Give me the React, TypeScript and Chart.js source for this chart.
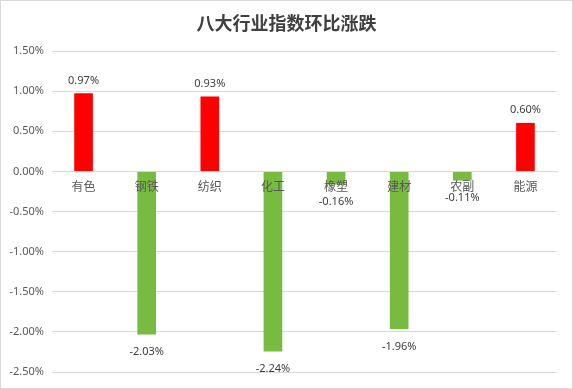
import React, { useEffect, useRef } from "react";
import { Chart, registerables } from "chart.js";

Chart.register(...registerables);

const categories = ["有色", "钢铁", "纺织", "化工", "橡塑", "建材", "农副", "能源"];
const values = [0.97, -2.03, 0.93, -2.24, -0.16, -1.96, -0.11, 0.6];
const yTicks = [1.5, 1.0, 0.5, 0.0, -0.5, -1.0, -1.5, -2.0, -2.5];
const title = "八大行业指数环比涨跌";

const POS = "#FF0000";
const NEG = "#77BB41";

const labelPlugin = {
  id: "valueLabels",
  afterDraw(chart: any) {
    const ctx = chart.ctx;
    const meta = chart.getDatasetMeta(0);
    ctx.save();
    ctx.font = "11px 'Noto Sans', 'DejaVu Sans', sans-serif";
    ctx.fillStyle = "#404040";
    ctx.textAlign = "center";
    ctx.textBaseline = "middle";
    meta.data.forEach((bar: any, i: number) => {
      const v = values[i];
      const y = v >= 0 ? bar.y - 13 : bar.y + 18;
      ctx.fillText(v.toFixed(2) + "%", bar.x, y);
    });
    ctx.font = "bold 18px 'Noto Sans CJK SC', sans-serif";
    ctx.fillStyle = "#404040";
    ctx.fillText(title, chart.width / 2, 22);
    ctx.restore();
  },
};

export default function App() {
  const ref = useRef<HTMLCanvasElement>(null);
  useEffect(() => {
    document.body.style.margin = "0";
    const chart = new Chart(ref.current!, {
      type: "bar",
      data: {
        labels: categories,
        datasets: [
          {
            data: values,
            backgroundColor: values.map((v) => (v >= 0 ? POS : NEG)),
            barThickness: 18,
          },
        ],
      },
      options: {
        animation: false,
        responsive: false,
        maintainAspectRatio: false,
        layout: { padding: { left: 0, right: 15, top: 50, bottom: 16 } },
        plugins: {
          legend: { display: false },
          tooltip: { enabled: false },
          title: { display: false },
        },
        scales: {
          x: {
            position: { y: 0 } as any,
            grid: { display: false, drawTicks: false },
            border: { color: "#d9d9d9", z: 1 },
            ticks: {
              z: 1,
              color: "#595959",
              font: { size: 12, family: "'Noto Sans CJK SC', sans-serif" },
              padding: 8,
              maxRotation: 0,
              autoSkip: false,
            },
          },
          y: {
            min: -2.5,
            max: 1.5,
            afterFit: (s: any) => {
              s.width = 51;
            },
            afterBuildTicks: (s: any) => {
              s.ticks = yTicks.map((v) => ({ value: v }));
            },
            grid: { color: "#d9d9d9", drawTicks: false },
            border: { display: false },
            ticks: {
              color: "#595959",
              font: { size: 11, family: "'Noto Sans', 'DejaVu Sans', sans-serif" },
              padding: 8,
              callback: (v: any) => Number(v).toFixed(2) + "%",
            },
          },
        },
      },
      plugins: [labelPlugin],
    });
    return () => chart.destroy();
  }, []);
  return (
    <div
      style={{
        position: "absolute",
        left: 0,
        top: 0,
        width: 573,
        height: 389,
        boxSizing: "border-box",
        border: "1px solid #d9d9d9",
        background: "#fff",
      }}
    >
      <canvas ref={ref} width={571} height={387} style={{ display: "block" }} />
    </div>
  );
}
